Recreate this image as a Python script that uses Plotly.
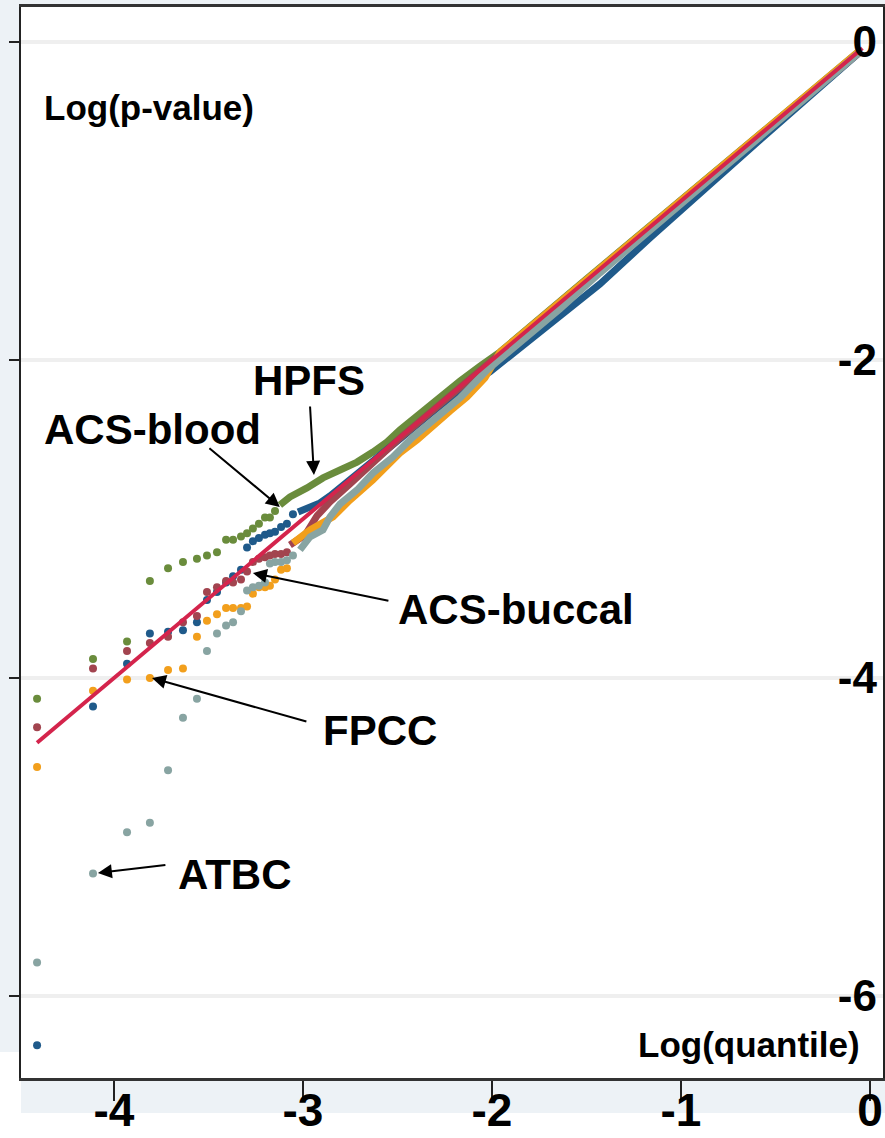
import plotly.graph_objects as go

# Expected log10 quantile positions of the smallest p-values (shared by all studies)
QUANTILE_COLS = [-4.407, -4.111, -3.931, -3.810, -3.714, -3.635, -3.561, -3.508,
                 -3.455, -3.407, -3.370, -3.328, -3.296, -3.265, -3.233, -3.201,
                 -3.175, -3.148, -3.116, -3.085, -3.053]

# Observed log10 p-values at those quantiles (individually visible points)
hpfs_tail = [-4.13, -3.88, -3.77, -3.39, -3.31, -3.27, -3.25, -3.23, -3.21,
             -3.13, -3.13, -3.11, -3.09, -3.06, -3.03, -2.99, -2.99, -2.95]
acs_blood_tail = [-6.31, -4.18, -3.91, -3.72, -3.71, -3.70, -3.65, -3.51, -3.46,
                  -3.40, -3.36, -3.32, -3.18, -3.14, -3.12, -3.10, -3.09, -3.08,
                  -3.05, -3.03, -2.97]
acs_buccal_tail = [-4.31, -3.94, -3.83, -3.78, -3.74, -3.65, -3.61, -3.46, -3.43,
                   -3.39, -3.40, -3.38, -3.33, -3.27, -3.25, -3.24, -3.23, -3.22,
                   -3.22, -3.21]
fpcc_tail = [-4.56, -4.08, -4.01, -4.00, -3.95, -3.94, -3.74, -3.64, -3.60,
             -3.56, -3.56, -3.56, -3.55, -3.47, -3.43, -3.43, -3.42, -3.38,
             -3.32, -3.31]
atbc_tail = [-5.79, -5.23, -4.97, -4.91, -4.58, -4.25, -4.13, -3.83, -3.72,
             -3.67, -3.65, -3.58, -3.45, -3.43, -3.42, -3.40, -3.28, -3.27,
             -3.27, -3.26, -3.23]

# Dense body of each QQ curve (log quantile, log p-value)
hpfs_body_x = [-3.122, -3.069, -2.979, -2.894, -2.804, -2.714, -2.630, -2.556,
               -2.487, -2.381, -2.275, -2.169, -2.063, -1.958, -1.50, -1.00, -0.50, -0.05]
hpfs_body_y = [-2.912, -2.862, -2.805, -2.742, -2.692, -2.642, -2.579, -2.516,
               -2.440, -2.333, -2.239, -2.132, -2.038, -1.950, -1.49, -0.99, -0.49, -0.05]

acs_blood_body_x = [-3.026, -2.979, -2.910, -2.857, -2.751, -2.646, -2.487, -2.328,
                    -2.169, -2.011, -1.905, -1.693, -1.429, -1.164, -0.899, -0.582, -0.05]
acs_blood_body_y = [-2.956, -2.931, -2.899, -2.855, -2.755, -2.648, -2.497, -2.340,
                    -2.189, -2.075, -1.975, -1.780, -1.522, -1.233, -0.950, -0.616, -0.06]

acs_buccal_body_x = [-3.069, -2.989, -2.926, -2.857, -2.751, -2.487, -1.958, -1.429,
                     -0.899, -0.05]
acs_buccal_body_y = [-3.164, -3.101, -2.981, -2.893, -2.780, -2.491, -1.962, -1.434,
                     -0.906, -0.06]

fpcc_body_x = [-3.053, -2.963, -2.841, -2.751, -2.630, -2.556, -2.487, -2.397,
               -2.312, -2.222, -2.132, -2.037, -1.958, -1.746, -1.429, -0.899, -0.05]
fpcc_body_y = [-3.151, -3.069, -2.987, -2.881, -2.755, -2.660, -2.585, -2.503,
               -2.421, -2.321, -2.233, -2.113, -1.952, -1.735, -1.424, -0.896, -0.05]

atbc_body_x = [-3.016, -2.963, -2.894, -2.857, -2.804, -2.714, -2.630, -2.524,
               -2.418, -2.312, -2.169, -2.026, -1.852, -1.640, -1.429, -1.164,
               -0.899, -0.05]
atbc_body_y = [-3.195, -3.113, -3.069, -2.987, -2.906, -2.818, -2.711, -2.610,
               -2.484, -2.377, -2.239, -2.063, -1.893, -1.679, -1.453, -1.189,
               -0.918, -0.06]

# Null expectation (observed = expected)
null_x = [-4.407, -0.04]
null_y = [-4.407, -0.04]

X_TICKS = [-4, -3, -2, -1, 0]
Y_TICKS = [0, -2, -4, -6]

COLORS = {
    "HPFS": "#6a8c3c",
    "ACS-blood": "#1f5a8a",
    "ACS-buccal": "#a2444f",
    "FPCC": "#f29f1c",
    "ATBC": "#88a4a2",
}
NULL_COLOR = "#d4244c"

series = [
    ("HPFS", hpfs_tail, hpfs_body_x, hpfs_body_y),
    ("ACS-blood", acs_blood_tail, acs_blood_body_x, acs_blood_body_y),
    ("ACS-buccal", acs_buccal_tail, acs_buccal_body_x, acs_buccal_body_y),
    ("FPCC", fpcc_tail, fpcc_body_x, fpcc_body_y),
    ("ATBC", atbc_tail, atbc_body_x, atbc_body_y),
]

FONT = "Liberation Sans, Arial, sans-serif"

fig = go.Figure()
for name, tail, bx, by in series:
    c = COLORS[name]
    fig.add_trace(go.Scatter(x=bx, y=by, mode="lines", name=name,
                             line=dict(color=c, width=7), showlegend=False,
                             hoverinfo="skip"))
    fig.add_trace(go.Scatter(x=QUANTILE_COLS[:len(tail)], y=tail, mode="markers",
                             name=name, marker=dict(color=c, size=8),
                             showlegend=False))

fig.add_trace(go.Scatter(x=null_x, y=null_y, mode="lines",
                         line=dict(color=NULL_COLOR, width=4), showlegend=False,
                         hoverinfo="skip"))
# carrier for the tick labels drawn along the right side
fig.add_trace(go.Scatter(x=[None], y=[None], yaxis="y2", showlegend=False,
                         hoverinfo="skip"))

X_RANGE = [-4.492, 0.069]
Y_RANGE = [-6.516, 0.220]

fig.update_layout(
    width=885, height=1138,
    margin=dict(l=21, r=2, t=7, b=60, autoexpand=False),
    paper_bgcolor="#edf2f6",
    plot_bgcolor="white",
    showlegend=False,
    xaxis=dict(
        range=X_RANGE, tickvals=X_TICKS, ticktext=[str(v) for v in X_TICKS],
        ticks="outside", ticklen=20, tickwidth=1.5, tickcolor="#222",
        showgrid=False, zeroline=False, automargin=False,
        ticklabeloverflow="allow", ticklabelstandoff=-30,
        showline=True, linecolor="#333", linewidth=3, mirror=True,
        tickfont=dict(family=FONT, size=46, color="black", weight="bold"),
    ),
    yaxis=dict(
        range=Y_RANGE, tickvals=Y_TICKS, showticklabels=False,
        ticks="outside", ticklen=10, tickwidth=2, tickcolor="#222",
        showgrid=True, gridcolor="#efefef", gridwidth=4, zeroline=False,
        automargin=False,
        showline=True, linecolor="#222", linewidth=1.5, mirror=True,
    ),
    yaxis2=dict(
        range=Y_RANGE, overlaying="y", side="left", anchor="free",
        position=0.993,
        tickvals=Y_TICKS, ticktext=[str(v) for v in Y_TICKS],
        ticks="", showgrid=False, zeroline=False,
        showline=False, automargin=False,
        tickfont=dict(family=FONT, size=44, color="black", weight="bold"),
    ),
)

# white page areas around the grey frame
fig.add_shape(type="rect", xref="paper", yref="paper", layer="below",
              x0=-0.03, x1=0.0, y0=-0.06, y1=0.0243,
              fillcolor="white", line_width=0)
fig.add_shape(type="rect", xref="paper", yref="paper", layer="below",
              x0=-0.03, x1=-0.016, y0=-0.06, y1=0.0,
              fillcolor="white", line_width=0)
fig.add_shape(type="rect", xref="paper", yref="paper", layer="below",
              x0=-0.03, x1=1.01, y0=-0.06, y1=-0.0327,
              fillcolor="white", line_width=0)

# axis captions inside the frame
fig.add_annotation(x=-4.381, y=-0.415, text="Log(p-value)", showarrow=False,
                   xanchor="left", yanchor="middle",
                   font=dict(family=FONT, size=35, color="black", weight="bold"))
fig.add_annotation(x=-0.042, y=-6.308, text="Log(quantile)", showarrow=False,
                   xanchor="right", yanchor="middle",
                   font=dict(family=FONT, size=35, color="black", weight="bold"))

# study labels
labels = [
    ("HPFS", -2.968, -2.126),
    ("ACS-blood", -3.794, -2.440),
    ("ACS-buccal", -1.873, -3.572),
    ("FPCC", -2.593, -4.333),
    ("ATBC", -3.360, -5.233),
]
for text, lx, ly in labels:
    fig.add_annotation(x=lx, y=ly, text=text, showarrow=False,
                       xanchor="center", yanchor="middle",
                       font=dict(family=FONT, size=42, color="black", weight="bold"))

# pointer arrows: (tail x, tail y, head x, head y)
arrows = [
    (-2.963, -2.283, -2.942, -2.723),
    (-3.503, -2.547, -3.122, -2.925),
    (-2.540, -3.516, -3.265, -3.340),
    (-2.974, -4.277, -3.799, -4.000),
    (-3.720, -5.176, -4.085, -5.226),
]
for ax_, ay_, hx, hy in arrows:
    fig.add_annotation(x=hx, y=hy, ax=ax_, ay=ay_, axref="x", ayref="y",
                       text="", showarrow=True, arrowhead=2, arrowsize=1.4,
                       arrowwidth=2, arrowcolor="black", standoff=0)

fig.write_html("out.html")
